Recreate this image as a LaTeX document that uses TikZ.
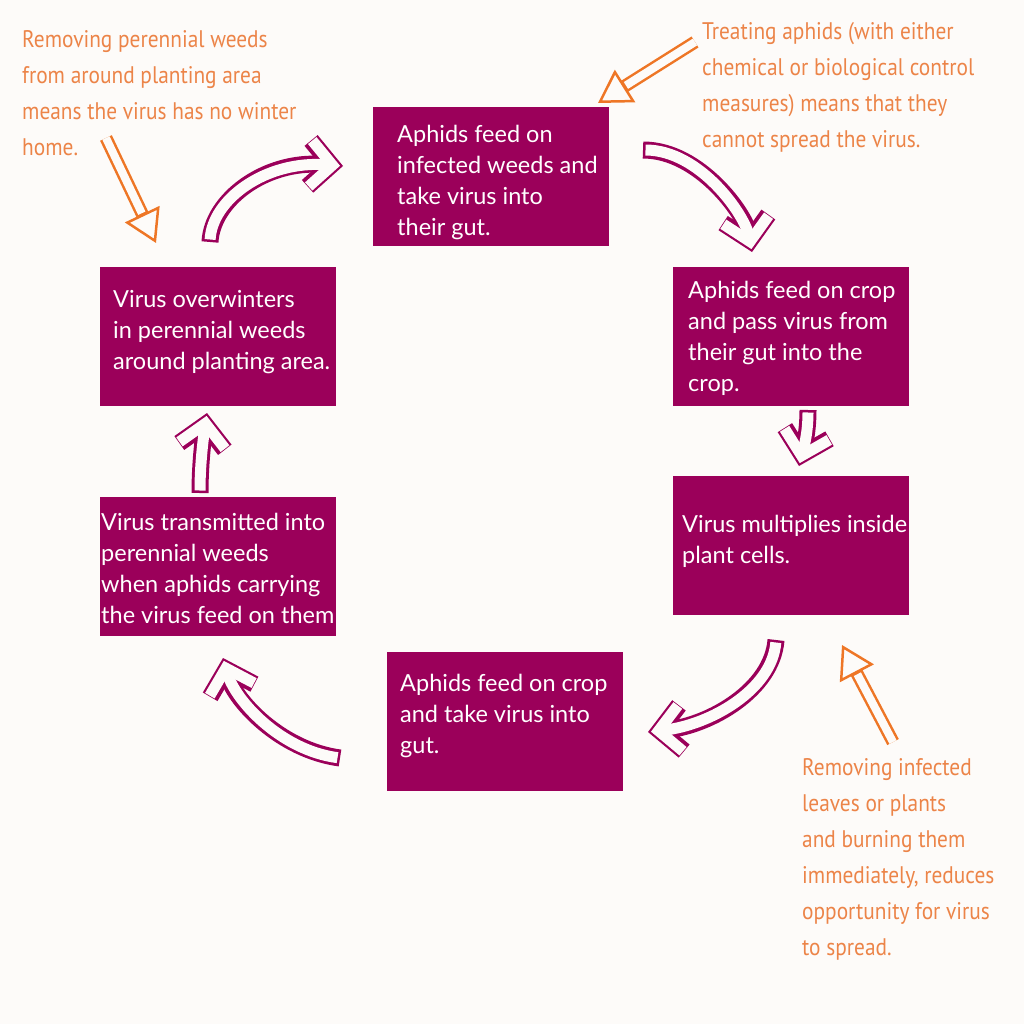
\documentclass[tikz,border=0pt]{standalone}
\usepackage{fontspec}
\setmainfont{Lato}
\newfontfamily\notefont[FakeStretch=0.89]{PT Sans}
\usetikzlibrary{arrows.meta}

\definecolor{plum}{RGB}{155,0,90}
\definecolor{carrot}{RGB}{238,118,38}
\definecolor{notetext}{RGB}{236,132,72}
\definecolor{paper}{RGB}{253,251,249}

\begin{document}
\begin{tikzpicture}[x=1pt,y=-1pt,
    stagebox/.style={fill=plum, minimum width=236pt, minimum height=139pt, anchor=north west, inner sep=0pt},
    stagetext/.style={text=white, font=\fontsize{23.5}{31}\selectfont, align=left, anchor=north west, inner sep=0pt},
    note/.style={text=notetext, font=\notefont\fontsize{24}{36}\selectfont, align=left, anchor=north west, inner sep=0pt},
    cyclearrow/.style={draw=plum, line width=17pt, -{Straight Barb[length=22pt,width=46pt]},
        postaction={draw=paper, line width=11pt, shorten >=3pt, shorten <=2.5pt}},
    notearrow/.style={draw=carrot, line width=13pt, -{Triangle[length=32pt,width=38pt,line width=2.5pt,fill=paper]},
        postaction={draw=paper, line width=8pt, arrows=-, shorten >=33pt}}]

    \fill[paper] (0,0) rectangle (1024,1024);

    % stages of the cycle
    \node[stagebox] (b1) at (373,107) {};
    \node[stagebox] (b2) at (673,267) {};
    \node[stagebox] (b3) at (673,476) {};
    \node[stagebox] (b4) at (387,652) {};
    \node[stagebox] (b5) at (100,497) {};
    \node[stagebox] (b6) at (100,267) {};

    \node[stagetext] (t1) at (397,125) {Aphids feed on\\infected weeds and\\take virus into\\their gut.};
    \node[stagetext] (t2) at (688,281) {Aphids feed on crop\\and pass virus from\\their gut into the\\crop.};
    \node[stagetext] (t3) at (682,515) {Virus multiplies inside\\plant cells.};
    \node[stagetext] (t4) at (400,674) {Aphids feed on crop\\and take virus into\\gut.};
    \node[stagetext] (t5) at (101,513) {Virus transmitted into\\perennial weeds\\when aphids carrying\\the virus feed on them};
    \node[stagetext] (t6) at (113,290) {Virus overwinters\\in perennial weeds\\around planting area.};

    % control measures
    \node[note] (n1) at (22,30) {Removing perennial weeds\\from around planting area\\means the virus has no winter\\home.};
    \node[note] (n2) at (702,22) {Treating aphids (with either\\chemical or biological control\\measures) means that they\\cannot spread the virus.};
    \node[note] (n3) at (802,758) {Removing infected\\leaves or plants\\and burning them\\immediately, reduces\\opportunity for virus\\to spread.};

    % arrow ends
    \coordinate (a1s) at (210,242);
    \coordinate (a1e) at (343,166);
    \coordinate (a2s) at (643,150);
    \coordinate (a2e) at (752,252);
    \coordinate (a3s) at (808,410);
    \coordinate (a3e) at (799,466);
    \coordinate (a4s) at (776,640);
    \coordinate (a4e) at (648,732);
    \coordinate (a5s) at (340,758);
    \coordinate (a5e) at (223,658);
    \coordinate (a6s) at (200,493);
    \coordinate (a6e) at (207,413);

    \draw[cyclearrow] (a1s) .. controls (212,200) and (265,160) .. (a1e);
    \draw[cyclearrow] (a2s) .. controls (700,150) and (745,215) .. (a2e);
    \draw[cyclearrow] (a3s) .. controls (808,435) and (803,450) .. (a3e);
    \draw[cyclearrow] (a4s) .. controls (772,690) and (710,725) .. (a4e);
    \draw[cyclearrow] (a5s) .. controls (280,750) and (235,700) .. (a5e);
    \draw[cyclearrow] (a6s) .. controls (200,465) and (203,440) .. (a6e);

    \coordinate (o1s) at (106,138);
    \coordinate (o1e) at (156,243);
    \coordinate (o2s) at (695,42);
    \coordinate (o2e) at (598,103);
    \coordinate (o3s) at (893,742);
    \coordinate (o3e) at (842,645);

    \draw[notearrow] (o1s) -- (o1e);
    \draw[notearrow] (o2s) -- (o2e);
    \draw[notearrow] (o3s) -- (o3e);
\end{tikzpicture}
\end{document}
